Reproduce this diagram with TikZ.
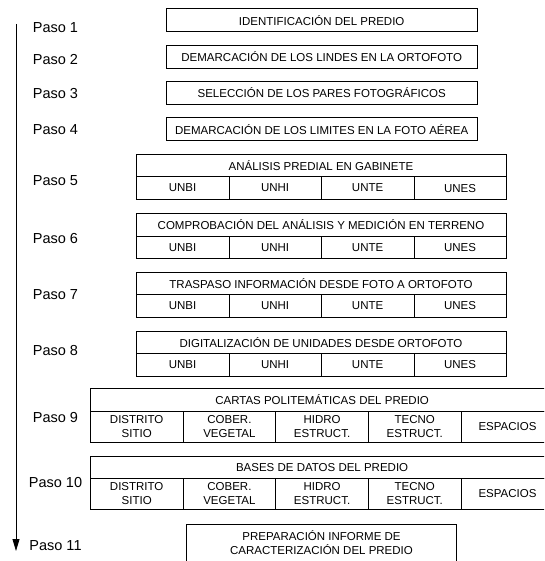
\documentclass[tikz,border=0pt]{standalone}
\usepackage{fontspec}
\setmainfont{Liberation Sans}
\usetikzlibrary{arrows.meta}
\begin{document}
\begin{tikzpicture}[x=1pt,y=-1pt,
  paso/.style={font=\fontsize{14.5}{16}\selectfont},
  box/.style={draw, line width=0.7pt, inner sep=0pt, align=center,
    font=\fontsize{11.5}{14}\selectfont},
  cell/.style={box, anchor=north west}]
\useasboundingbox (0,0) rectangle (544,561);
\clip (0,0) rectangle (544,561);
% time line
\coordinate (top) at (16,24);
\coordinate (end) at (16,551);
\draw[-{Triangle[length=12pt,width=7pt]}, line width=0.8pt] (top) -- (end);
% step labels
\node[paso] (p1) at (55.5,27.5) {Paso 1};
\node[paso] (p2) at (55.5,60) {Paso 2};
\node[paso] (p3) at (55.5,93.5) {Paso 3};
\node[paso] (p4) at (55.5,130) {Paso 4};
\node[paso] (p5) at (55.5,181) {Paso 5};
\node[paso] (p6) at (55.5,239) {Paso 6};
\node[paso] (p7) at (55.5,295) {Paso 7};
\node[paso] (p8) at (55.5,351) {Paso 8};
\node[paso] (p9) at (55.5,417.5) {Paso 9};
\node[paso] (p10) at (55.5,483) {Paso 10};
\node[paso] (p11) at (55.5,546) {Paso 11};
% single boxes
\node[box, minimum width=311.4, minimum height=23] (s1) at (321.7,20.3) {IDENTIFICACIÓN DEL PREDIO};
\node[box, minimum width=311.4, minimum height=23] (s2) at (321.7,56.7) {DEMARCACIÓN DE LOS LINDES EN LA ORTOFOTO};
\node[box, minimum width=311.4, minimum height=23] (s3) at (321.7,92.9) {SELECCIÓN DE LOS PARES FOTOGRÁFICOS};
\node[box, minimum width=311.4, minimum height=23] (s4) at (321.7,129.2) {DEMARCACIÓN DE LOS LIMITES EN LA FOTO AÉREA};
% boxes with four units
\foreach \n/\y/\t in {5/154/ANÁLISIS PREDIAL EN GABINETE,
    6/213.3/COMPROBACIÓN DEL ANÁLISIS Y MEDICIÓN EN TERRENO,
    7/271.7/TRASPASO INFORMACIÓN DESDE FOTO A ORTOFOTO,
    8/330.7/DIGITALIZACIÓN DE UNIDADES DESDE ORTOFOTO} {
  \node[box, minimum width=370, minimum height=22.5, anchor=north] (s\n) at (321,\y) {\t};
  \foreach \u [count=\i from 0] in {UNBI,UNHI,UNTE,UNES}
    \node[cell, minimum width=92.5, minimum height=22.5] (s\n-\i) at (136+92.5*\i,\y+22.5) {\u};
}
% boxes with five themes
\foreach \n/\y/\t in {9/388.3/CARTAS POLITEMÁTICAS DEL PREDIO,
    10/455.5/BASES DE DATOS DEL PREDIO} {
  \node[cell, minimum width=463.5, minimum height=22.4] (s\n) at (90,\y) {\t};
  \foreach \u [count=\i from 0] in {{DISTRITO\\SITIO},{COBER.\\VEGETAL},{HIDRO\\ESTRUCT.},{TECNO\\ESTRUCT.},ESPACIOS}
    \node[cell, minimum width=92.7, minimum height=31] (s\n-\i) at (90+92.7*\i,\y+22.4) {\u};
}
% last step
\node[box, minimum width=270, minimum height=60, anchor=north] (s11) at (321.5,524) {};
\node[align=center, inner sep=0pt, font=\fontsize{11.5}{13.6}\selectfont] (s11txt) at (321.5,542.5)
  {PREPARACIÓN INFORME DE\\CARACTERIZACIÓN DEL PREDIO};
\end{tikzpicture}
\end{document}
